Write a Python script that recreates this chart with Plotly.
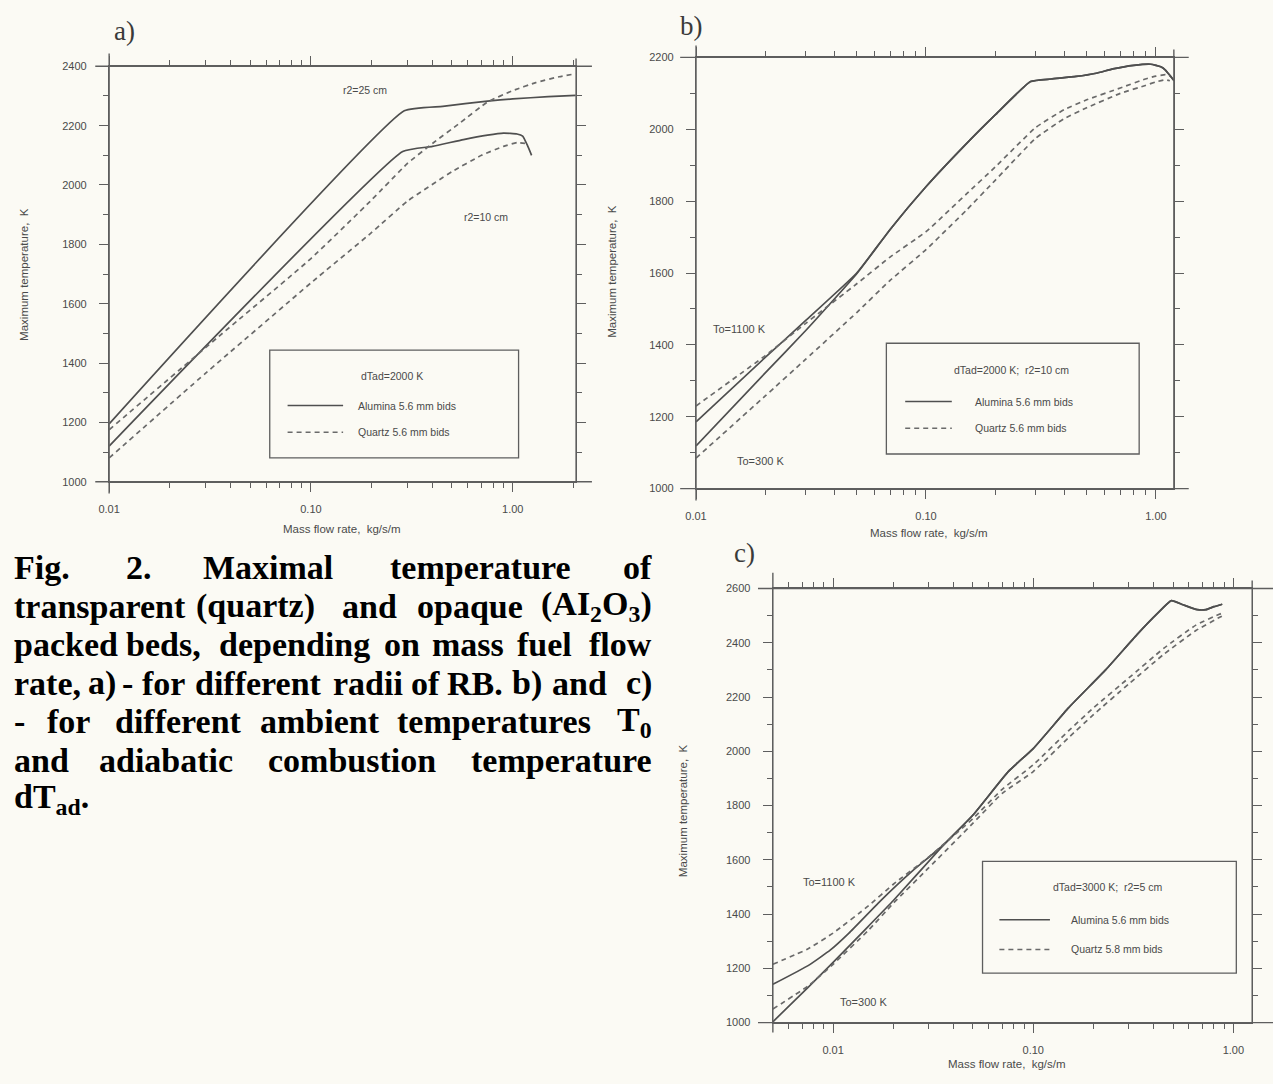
import plotly.graph_objects as go
import math

W, H = 1273, 1084

# ---------------- DATA ----------------
# Panel a) dTad=2000 K, two radii
a_x_al25 = [0.01, 0.29, 0.45, 0.75, 1.0, 1.5, 2.05]
a_T_al25 = [1195, 2250, 2265, 2283, 2290, 2298, 2302]
a_x_al10 = [0.01, 0.285, 0.40, 0.57, 0.75, 0.9, 1.05, 1.12, 1.18, 1.24]
a_T_al10 = [1120, 2113, 2130, 2153, 2168, 2175, 2172, 2165, 2135, 2100]
a_x_q25 = [0.01, 0.035, 0.1, 0.2, 0.3, 0.4, 0.55, 0.75, 1.0, 1.3, 1.7, 2.05]
a_T_q25 = [1175, 1490, 1752, 1950, 2072, 2140, 2210, 2280, 2318, 2345, 2365, 2375]
a_x_q10 = [0.01, 0.03, 0.1, 0.2, 0.3, 0.5, 0.7, 0.9, 1.05, 1.15]
a_T_q10 = [1080, 1365, 1670, 1840, 1945, 2045, 2100, 2130, 2143, 2140]

# Panel b) dTad=2000 K, r2=10 cm, two ambient temperatures
b_x_al = [0.01, 0.02, 0.03, 0.05, 0.07, 0.1, 0.15, 0.2, 0.285, 0.35, 0.45, 0.55,
          0.65, 0.8, 0.95, 1.05, 1.1, 1.15, 1.2]
b_T_al1100 = [1186, 1365, 1468, 1600, 1722, 1840, 1960, 2040, 2133, 2140, 2147, 2156,
              2168, 2178, 2181, 2174, 2165, 2150, 2135]
b_T_al300 = [1119, 1322, 1440, 1598, 1722, 1840, 1960, 2040, 2133, 2140, 2147, 2156,
             2168, 2178, 2181, 2174, 2165, 2150, 2135]
b_x_q = [0.01, 0.02, 0.03, 0.05, 0.07, 0.1, 0.15, 0.2, 0.3, 0.4, 0.5, 0.7, 0.9, 1.0, 1.1, 1.15]
b_T_q1100 = [1230, 1370, 1460, 1570, 1645, 1715, 1820, 1895, 2005, 2055, 2082, 2115, 2140, 2148, 2152, 2148]
b_T_q300 = [1085, 1258, 1360, 1490, 1580, 1665, 1775, 1858, 1975, 2030, 2060, 2100, 2122, 2132, 2138, 2135]

# Panel c) dTad=3000 K, r2=5 cm, two ambient temperatures
c_x_al1100 = [0.005, 0.0075, 0.0097, 0.012, 0.0172, 0.025, 0.035, 0.05, 0.075, 0.1, 0.15,
              0.23, 0.33, 0.42, 0.49, 0.56, 0.66, 0.73, 0.8, 0.88]
c_T_al1100 = [1141, 1210, 1268, 1330, 1448, 1560, 1650, 1765, 1925, 2010, 2160,
              2300, 2430, 2510, 2555, 2540, 2522, 2522, 2533, 2542]
c_x_al300 = [0.005, 0.0075, 0.01, 0.015, 0.02, 0.035, 0.05, 0.075, 0.1, 0.15,
             0.23, 0.33, 0.42, 0.49, 0.56, 0.66, 0.73, 0.8, 0.88]
c_T_al300 = [1003, 1130, 1222, 1355, 1450, 1648, 1765, 1925, 2010, 2160,
             2300, 2430, 2510, 2555, 2540, 2522, 2522, 2533, 2542]
c_x_q = [0.005, 0.0075, 0.01, 0.015, 0.02, 0.03, 0.05, 0.07, 0.1, 0.15, 0.2, 0.3, 0.45, 0.65, 0.85, 0.9]
c_T_q1100 = [1215, 1272, 1330, 1430, 1510, 1610, 1752, 1860, 1950, 2075, 2160, 2270, 2380, 2465, 2505, 2512]
c_T_q300 = [1050, 1135, 1215, 1340, 1440, 1570, 1735, 1845, 1925, 2050, 2135, 2248, 2358, 2445, 2493, 2502]

x_tick_vals = [0.01, 0.1, 1.0]
x_tick_text = ["0.01", "0.10", "1.00"]

legend_a = ["dTad=2000 K", "Alumina 5.6 mm bids", "Quartz 5.6 mm bids"]
legend_b = ["dTad=2000 K;  r2=10 cm", "Alumina 5.6 mm bids", "Quartz 5.6 mm bids"]
legend_c = ["dTad=3000 K;  r2=5 cm", "Alumina 5.6 mm bids", "Quartz 5.8 mm bids"]

# ---------------- STYLE ----------------
BG = "#fbfaf4"
AX = "#5e5e5e"
TXT = "#4a4a4a"
SOLID = "#4f4f4f"
DASH = "#6a6a6a"
SANS = "Liberation Sans, Arial, sans-serif"
SERIF = "Liberation Serif, Times New Roman, serif"


def px(x):
    return x / W


def py(y):
    return 1 - y / H


fig = go.Figure()


def add_line(xs, ys, ax, dashed, width=1.7):
    fig.add_trace(go.Scatter(
        x=xs, y=ys, mode="lines", xaxis="x" + ax, yaxis="y" + ax,
        line=dict(color=DASH if dashed else SOLID, width=width,
                  dash="5px,4px" if dashed else "solid", shape="spline", smoothing=0.4),
        showlegend=False, hoverinfo="skip"))


add_line(a_x_al25, a_T_al25, "", False)
add_line(a_x_al10, a_T_al10, "", False)
add_line(a_x_q25, a_T_q25, "", True)
add_line(a_x_q10, a_T_q10, "", True)

add_line(b_x_al, b_T_al1100, "2", False)
add_line(b_x_al, b_T_al300, "2", False)
add_line(b_x_q, b_T_q1100, "2", True)
add_line(b_x_q, b_T_q300, "2", True)

add_line(c_x_al1100, c_T_al1100, "3", False)
add_line(c_x_al300, c_T_al300, "3", False)
add_line(c_x_q, c_T_q1100, "3", True)
add_line(c_x_q, c_T_q300, "3", True)


def minor_log(lo, hi):
    vals = []
    for d in range(-3, 2):
        for m in range(2, 10):
            v = m * 10 ** d
            if lo < v < hi:
                vals.append(v)
    return vals


def xaxis(box, xmin, xmax, anchor):
    x0, x1, _, _ = box
    return dict(type="log", domain=[px(x0), px(x1)],
                range=[math.log10(xmin), math.log10(xmax)], anchor=anchor,
                showline=True, linecolor=AX, linewidth=1.4, mirror="ticks",
                ticks="outside", ticklen=9, tickwidth=1.2, tickcolor=AX,
                tickmode="array", tickvals=x_tick_vals, ticktext=x_tick_text,
                tickfont=dict(family=SANS, size=11, color=TXT),
                ticklabelstandoff=8, showgrid=False, zeroline=False,
                minor=dict(tickmode="array", tickvals=minor_log(xmin, xmax),
                           ticks="outside", ticklen=5, tickwidth=1, tickcolor=AX,
                           showgrid=False))


def yaxis(box, ymax, anchor):
    _, _, ytop, ybot = box
    return dict(domain=[py(ybot), py(ytop)], range=[1000, ymax], anchor=anchor,
                showline=True, linecolor=AX, linewidth=1.4, mirror="ticks",
                ticks="outside", ticklen=9, tickwidth=1.2, tickcolor=AX,
                tick0=1000, dtick=200,
                tickfont=dict(family=SANS, size=11, color=TXT),
                ticklabelstandoff=10, showgrid=False, zeroline=False,
                minor=dict(dtick=100, ticks="outside", ticklen=5, tickwidth=1,
                           tickcolor=AX, showgrid=False))


box_a = (99, 570, 61, 481)
box_b = (691, 1173, 52, 488)
box_c = (768.5, 1252, 589, 1028)

fig.update_layout(
    width=W, height=H, margin=dict(l=0, r=0, t=0, b=0),
    paper_bgcolor=BG, plot_bgcolor=BG,
    xaxis=xaxis(box_a, 0.01, 2.06, "y"), yaxis=yaxis(box_a, 2400, "x"),
    xaxis2=xaxis(box_b, 0.01, 1.197, "y2"), yaxis2=yaxis(box_b, 2200, "x2"),
    xaxis3=xaxis(box_c, 0.005, 1.242, "y3"), yaxis3=yaxis(box_c, 2600, "x3"),
)

shapes = []
annotations = []


def frame_ext(box, ax, l, r, t, b, tr):
    x0, x1, ytop, ybot = box
    w = x1 - x0
    h = ybot - ytop
    xr, yr = "x" + ax + " domain", "y" + ax + " domain"
    st = dict(color=AX, width=1.4)
    shapes.append(dict(type="line", xref=xr, yref=yr, x0=-l / w, x1=1 + r / w, y0=1, y1=1, line=st))
    shapes.append(dict(type="line", xref=xr, yref=yr, x0=-l / w, x1=1 + r / w, y0=0, y1=0, line=st))
    shapes.append(dict(type="line", xref=xr, yref=yr, x0=0, x1=0, y0=-b / h, y1=1 + t / h, line=st))
    shapes.append(dict(type="line", xref=xr, yref=yr, x0=1, x1=1, y0=0, y1=1 + tr / h, line=st))


frame_ext(box_a, "", 14, 16, 13, 12, 8)
frame_ext(box_b, "2", 16, 15, 12, 12, 8)
frame_ext(box_c, "3", 15, 21, 16, 10, 8)


def text(x, y, s, size=11, font=SANS, color=TXT, xanchor="center", angle=0):
    annotations.append(dict(x=px(x), y=py(y), xref="paper", yref="paper", text=s,
                            showarrow=False, xanchor=xanchor, yanchor="middle",
                            textangle=angle, borderpad=0,
                            font=dict(family=font, size=size, color=color)))


def legend(box, title_xy, sample_x, text_x, rows_y, labels):
    x0, y0, x1, y1 = box
    shapes.append(dict(type="rect", xref="paper", yref="paper", x0=px(x0), x1=px(x1),
                       y0=py(y1), y1=py(y0), line=dict(color=AX, width=1.3)))
    text(title_xy[0], title_xy[1], labels[0], size=10.5)
    for i, (yy, dashed) in enumerate(zip(rows_y, [False, True])):
        shapes.append(dict(type="line", xref="paper", yref="paper",
                           x0=px(sample_x[0]), x1=px(sample_x[1]), y0=py(yy), y1=py(yy),
                           line=dict(color=DASH if dashed else SOLID, width=1.5,
                                     dash="5px,4px" if dashed else "solid")))
        text(text_x, yy, labels[i + 1], size=10.5, xanchor="left")


legend((261, 348, 512, 457), (384, 374), (279, 335), 349, (404, 431), legend_a)
legend((883, 341, 1138, 453), (1009, 368), (902, 949), 971, (400, 427), legend_b)
legend((980, 865, 1236, 978), (1106, 891), (997, 1048), 1068, (924, 954), legend_c)

# panel letters
text(114, 25, "a)", size=27, font=SERIF, color="#3a3a3a")
text(686, 20, "b)", size=27, font=SERIF, color="#3a3a3a")
text(740, 553, "c)", size=27, font=SERIF, color="#3a3a3a")

# axis titles
YT = "Maximum temperature,  K"
XT = "Mass flow rate,  kg/s/m"
text(13, 271, YT, size=11.5, angle=-90)
text(606, 268, YT, size=11.5, angle=-90)
text(678, 814, YT, size=11.5, angle=-90)
text(334, 529, XT, size=11.5)
text(926, 533, XT, size=11.5)
text(1005, 1070, XT, size=11.5)

# in-plot labels
text(357, 85, "r2=25 cm", size=10.5)
text(479, 213, "r2=10 cm", size=10.5)
text(735, 327, "To=1100 K", size=11)
text(756, 460, "To=300 K", size=11)
text(826, 886, "To=1100 K", size=11)
text(860, 1007, "To=300 K", size=11)

# caption (justified lines, word by word)
cap_lines = [
    [("Fig.", 2, "left"), ("2.", 129, "center"), ("Maximal", 259, "center"),
     ("temperature", 474, "center"), ("of", 648, "right")],
    [("transparent", 2, "left"), ("(quartz)", 247, "center"), ("and", 362, "center"),
     ("opaque", 463, "center"), ("(AI<sub>2</sub>O<sub>3</sub>)", 648, "right")],
    [("packed", 2, "left"), ("beds,", 154, "center"), ("depending", 286, "center"),
     ("on", 394, "center"), ("mass", 461, "center"), ("fuel", 538, "center"),
     ("flow", 648, "right")],
    [("rate,", 2, "left"), ("a)", 92, "center"), ("-", 118, "center"), ("for", 154, "center"),
     ("different", 250, "center"), ("radii", 360, "center"), ("of", 418, "center"),
     ("RB.", 468, "center"), ("b)", 521, "center"), ("and", 573, "center"), ("c)", 648, "right")],
    [("-", 2, "left"), ("for", 58, "center"), ("different", 169, "center"),
     ("ambient", 312, "center"), ("temperatures", 487, "center"),
     ("T<sub>0</sub>", 648, "right")],
    [("and", 2, "left"), ("adiabatic", 156, "center"), ("combustion", 344, "center"),
     ("temperature", 648, "right")],
    [("dT<sub>ad</sub>.", 2, "left")],
]
line_y0, line_dy = 568, 39
for i, words in enumerate(cap_lines):
    for w, xx, anc in words:
        text(xx, line_y0 + i * line_dy, "<b>" + w + "</b>", size=34, font=SERIF,
             color="#000000", xanchor=anc)

fig.update_layout(shapes=shapes, annotations=annotations)
fig.write_html("out.html",
               post_script="document.body.style.margin='0';document.body.style.overflow='hidden';")
